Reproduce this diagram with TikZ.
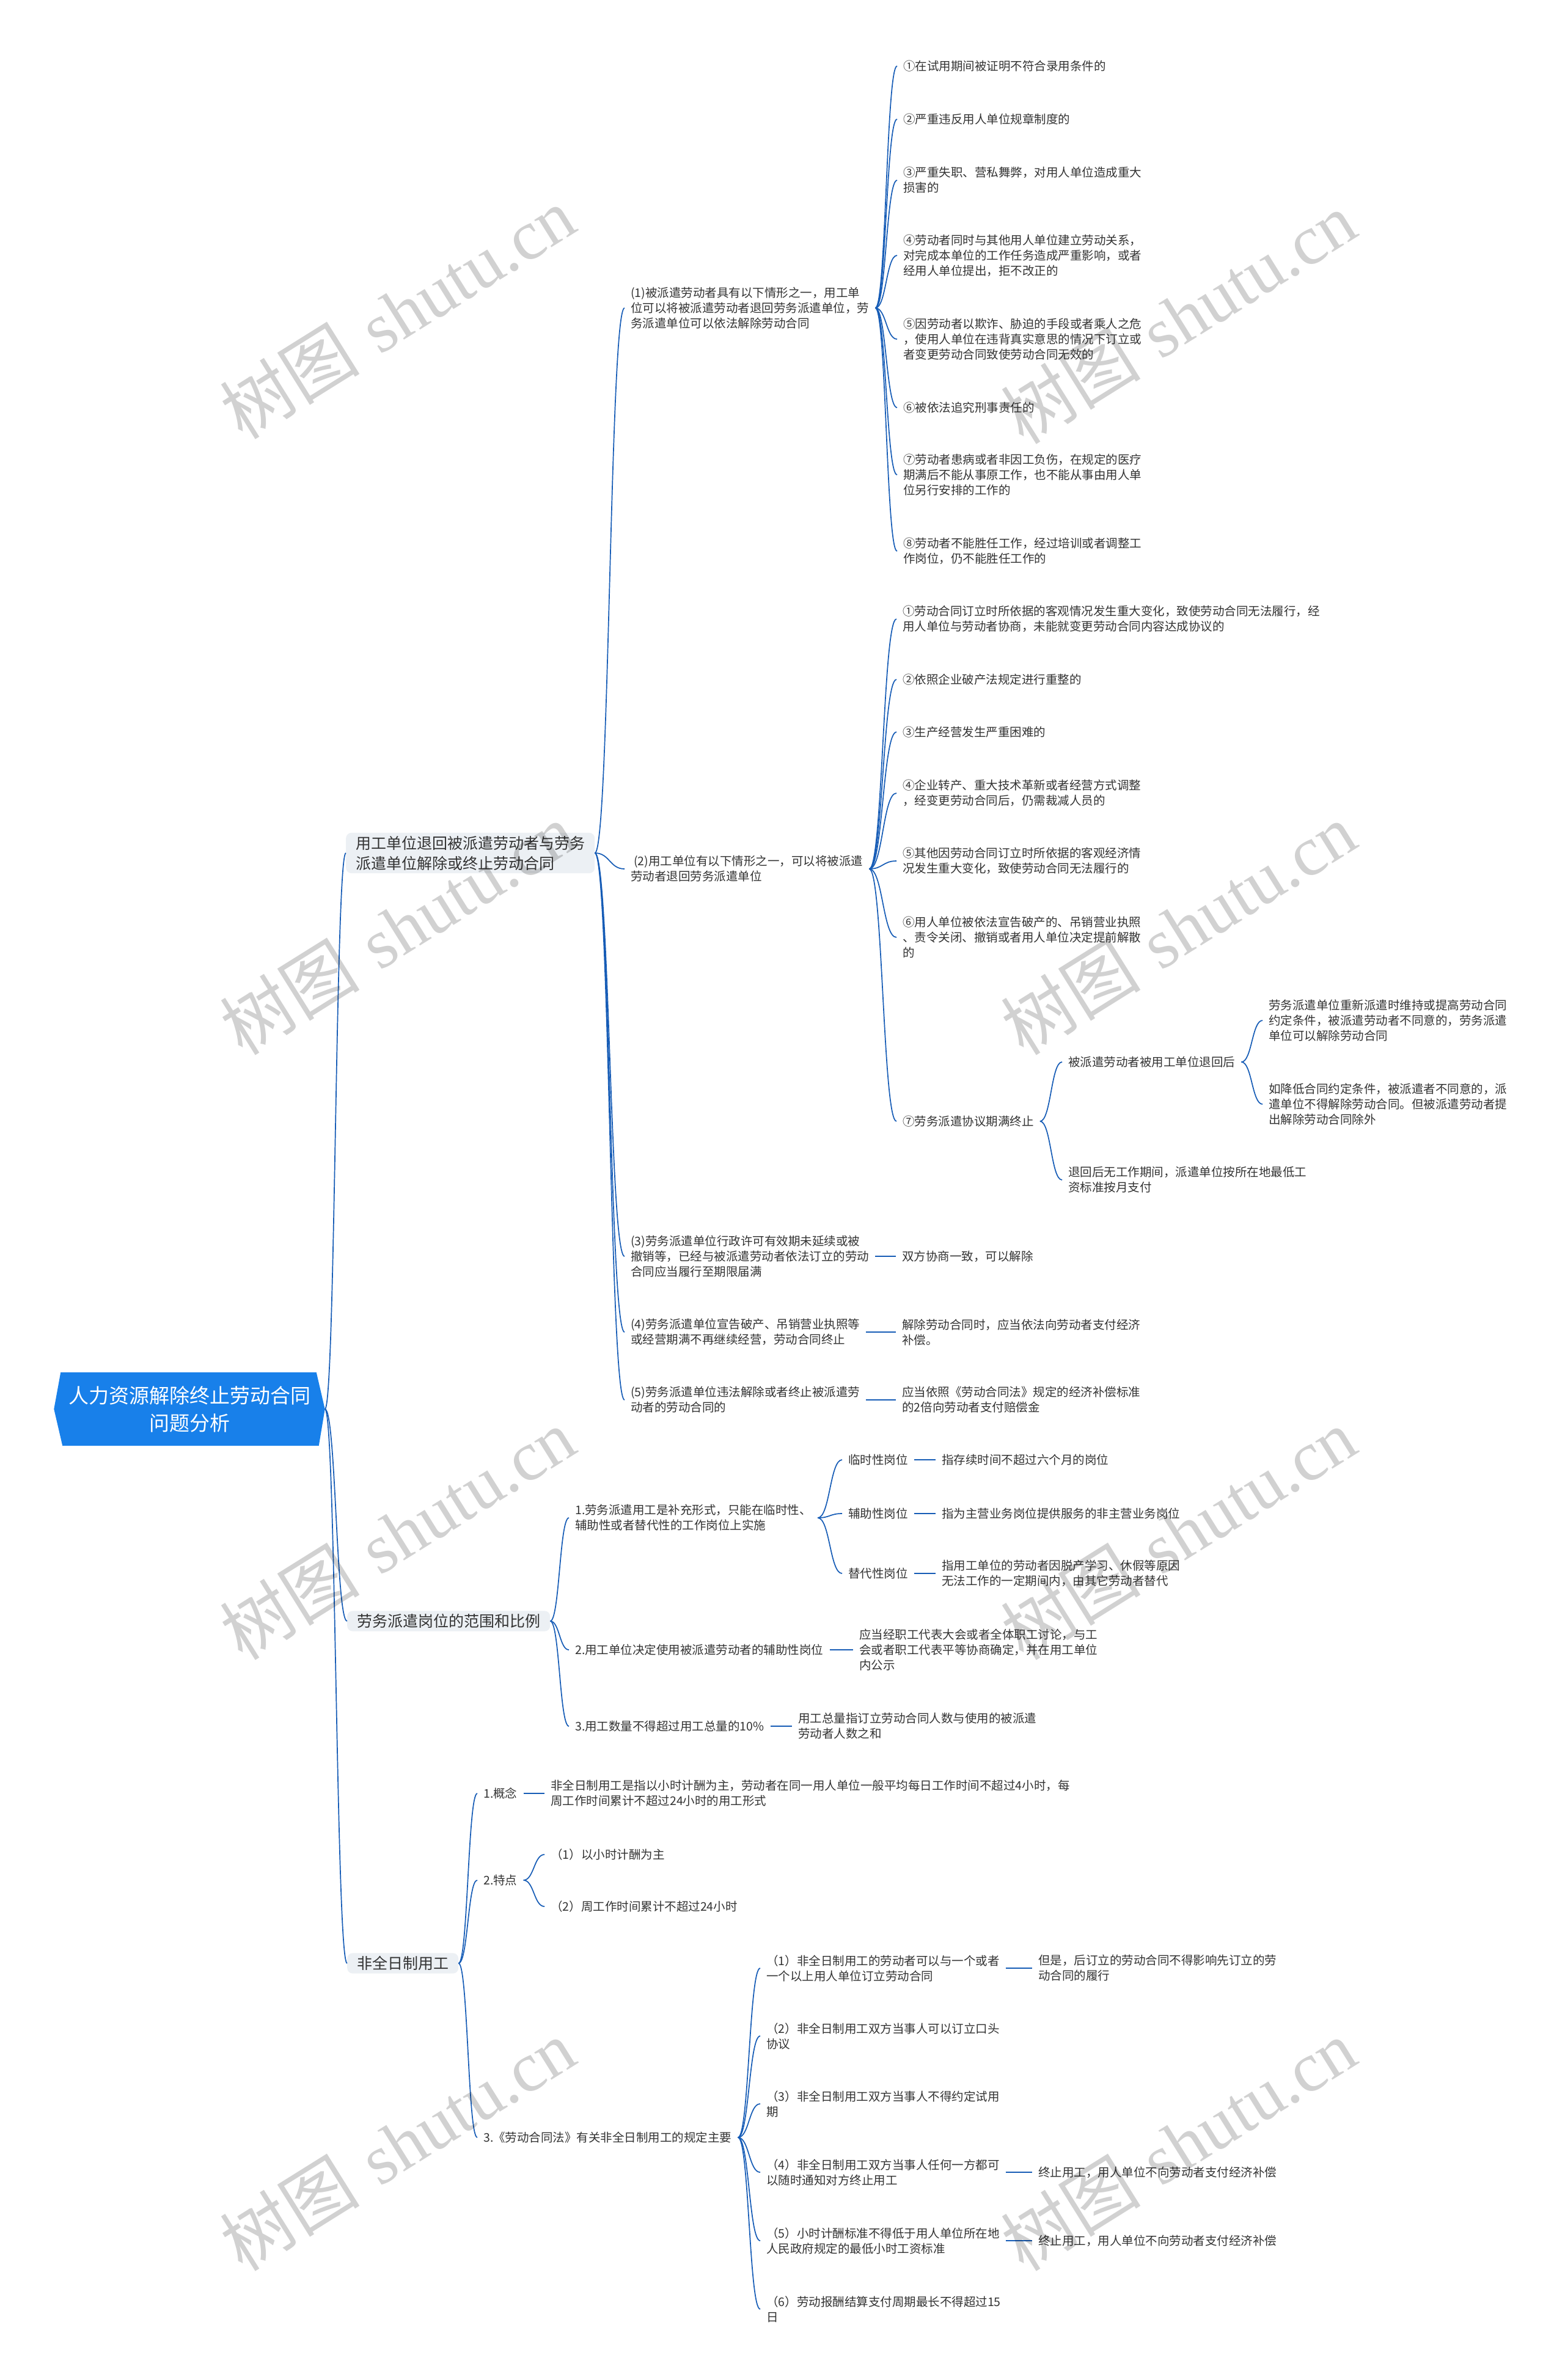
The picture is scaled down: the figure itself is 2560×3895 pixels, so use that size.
\documentclass[tikz,border=0pt]{standalone}
\usepackage{fontspec}
\newfontfamily\cjk{Noto Sans CJK SC}
\newfontfamily\wmserif{Liberation Serif}
\usetikzlibrary{calc,backgrounds}
\definecolor{rootblue}{RGB}{24,128,234}
\definecolor{linkblue}{RGB}{22,92,182}
\definecolor{boxgray}{RGB}{236,240,244}
\definecolor{txtgray}{RGB}{51,51,51}

\begin{document}
\begin{tikzpicture}[x=1pt,y=-1pt, font=\cjk,
  leaf/.style={anchor=west, inner xsep=10pt, inner ysep=3pt, align=left,
    text=txtgray, font=\cjk\fontsize{19.5}{25}\selectfont},
  topic/.style={anchor=west, inner xsep=16pt, inner ysep=5pt, align=left,
    fill=boxgray, rounded corners=9pt, text=txtgray,
    font=\cjk\fontsize{25}{33}\selectfont},
  wmark/.style={rotate=32, text=black, opacity=0.18, font=\fontsize{115}{115}\selectfont},
  linkto/.style={draw=linkblue, line width=1.7pt,
    to path={let \p1=(\tikztostart), \p2=(\tikztotarget) in
      .. controls ({(\x1+\x2)/2},\y1) and ({(\x1+\x2)/2},\y2) .. (\tikztotarget)}}]
  \begin{scope}[on background layer]
    \fill[white] (0,0) rectangle (2560,3895);
  \end{scope}
  \useasboundingbox (0,0) rectangle (2560,3895);

  %% root
  \node[minimum width=443pt, minimum height=120pt, inner sep=0pt, align=center,
    text=white, font=\cjk\fontsize{33}{45}\selectfont] (root) at (310,2306)
    {人力资源解除终止劳动合同\\问题分析};
  \begin{scope}[on background layer]
    \fill[rootblue] ([xshift=11pt]root.north west) -- ([xshift=-14pt]root.north east)
      -- (root.east) -- ([xshift=-10pt]root.south east)
      -- ([xshift=14pt]root.south west) -- (root.west) -- cycle;
  \end{scope}

  %% main topics
  \node[topic] (t1) at (566,1396) {用工单位退回被派遣劳动者与劳务\\派遣单位解除或终止劳动合同};
  \node[topic] (t2) at (568,2653) {劳务派遣岗位的范围和比例};
  \node[topic] (t3) at (568,3213) {非全日制用工};

  %% topic 1
  \node[leaf] (a1) at (1022,504) {(1)被派遣劳动者具有以下情形之一，用工单\\位可以将被派遣劳动者退回劳务派遣单位，劳\\务派遣单位可以依法解除劳动合同};
  \node[leaf] (a2) at (1022,1422) {\hspace*{5pt}(2)用工单位有以下情形之一，可以将被派遣\\劳动者退回劳务派遣单位};
  \node[leaf] (a3) at (1022,2056) {(3)劳务派遣单位行政许可有效期未延续或被\\撤销等，已经与被派遣劳动者依法订立的劳动\\合同应当履行至期限届满};
  \node[leaf] (a4) at (1022,2180) {(4)劳务派遣单位宣告破产、吊销营业执照等\\或经营期满不再继续经营，劳动合同终止};
  \node[leaf] (a5) at (1022,2291) {(5)劳务派遣单位违法解除或者终止被派遣劳\\动者的劳动合同的};
  \node[leaf] (a3c) at (1466,2056) {双方协商一致，可以解除};
  \node[leaf] (a4c) at (1466,2180) {解除劳动合同时，应当依法向劳动者支付经济\\补偿。};
  \node[leaf] (a5c) at (1466,2291) {应当依照《劳动合同法》规定的经济补偿标准\\的2倍向劳动者支付赔偿金};

  \node[leaf] (b1) at (1468,108) {①在试用期间被证明不符合录用条件的};
  \node[leaf] (b2) at (1468,195) {②严重违反用人单位规章制度的};
  \node[leaf] (b3) at (1468,295) {③严重失职、营私舞弊，对用人单位造成重大\\损害的};
  \node[leaf] (b4) at (1468,418) {④劳动者同时与其他用人单位建立劳动关系，\\对完成本单位的工作任务造成严重影响，或者\\经用人单位提出，拒不改正的};
  \node[leaf] (b5) at (1468,555) {⑤因劳动者以欺诈、胁迫的手段或者乘人之危\\，使用人单位在违背真实意思的情况下订立或\\者变更劳动合同致使劳动合同无效的};
  \node[leaf] (b6) at (1468,667) {⑥被依法追究刑事责任的};
  \node[leaf] (b7) at (1468,777) {⑦劳动者患病或者非因工负伤，在规定的医疗\\期满后不能从事原工作，也不能从事由用人单\\位另行安排的工作的};
  \node[leaf] (b8) at (1468,902) {⑧劳动者不能胜任工作，经过培训或者调整工\\作岗位，仍不能胜任工作的};

  \node[leaf] (c1) at (1467,1013) {①劳动合同订立时所依据的客观情况发生重大变化，致使劳动合同无法履行，经\\用人单位与劳动者协商，未能就变更劳动合同内容达成协议的};
  \node[leaf] (c2) at (1467,1112) {②依照企业破产法规定进行重整的};
  \node[leaf] (c3) at (1467,1198) {③生产经营发生严重困难的};
  \node[leaf] (c4) at (1467,1298) {④企业转产、重大技术革新或者经营方式调整\\，经变更劳动合同后，仍需裁减人员的};
  \node[leaf] (c5) at (1467,1409) {⑤其他因劳动合同订立时所依据的客观经济情\\况发生重大变化，致使劳动合同无法履行的};
  \node[leaf] (c6) at (1467,1534) {⑥用人单位被依法宣告破产的、吊销营业执照\\、责令关闭、撤销或者用人单位决定提前解散\\的};
  \node[leaf] (c7) at (1467,1835) {⑦劳务派遣协议期满终止};
  \node[leaf] (d1) at (1738,1738) {被派遣劳动者被用工单位退回后};
  \node[leaf] (d2) at (1738,1931) {退回后无工作期间，派遣单位按所在地最低工\\资标准按月支付};
  \node[leaf] (e1) at (2066,1670) {劳务派遣单位重新派遣时维持或提高劳动合同\\约定条件，被派遣劳动者不同意的，劳务派遣\\单位可以解除劳动合同};
  \node[leaf] (e2) at (2066,1807) {如降低合同约定条件，被派遣者不同意的，派\\遣单位不得解除劳动合同。但被派遣劳动者提\\出解除劳动合同除外};

  %% topic 2
  \node[leaf] (f1) at (931,2484) {1.劳务派遣用工是补充形式，只能在临时性、\\辅助性或者替代性的工作岗位上实施};
  \node[leaf] (f2) at (931,2700) {2.用工单位决定使用被派遣劳动者的辅助性岗位};
  \node[leaf] (f3) at (931,2825) {3.用工数量不得超过用工总量的10\%};
  \node[leaf] (g1) at (1378,2389) {临时性岗位};
  \node[leaf] (g2) at (1378,2477) {辅助性岗位};
  \node[leaf] (g3) at (1378,2575) {替代性岗位};
  \node[leaf] (g1c) at (1531,2389) {指存续时间不超过六个月的岗位};
  \node[leaf] (g2c) at (1531,2477) {指为主营业务岗位提供服务的非主营业务岗位};
  \node[leaf] (g3c) at (1531,2575) {指用工单位的劳动者因脱产学习、休假等原因\\无法工作的一定期间内，由其它劳动者替代};
  \node[leaf] (f2c) at (1396,2700) {应当经职工代表大会或者全体职工讨论，与工\\会或者职工代表平等协商确定，并在用工单位\\内公示};
  \node[leaf] (f3c) at (1296,2825) {用工总量指订立劳动合同人数与使用的被派遣\\劳动者人数之和};

  %% topic 3
  \node[leaf] (h1) at (781,2935) {1.概念};
  \node[leaf] (h2) at (781,3077) {2.特点};
  \node[leaf] (h3) at (781,3498) {3.《劳动合同法》有关非全日制用工的规定主要};
  \node[leaf] (h1c) at (891,2935) {非全日制用工是指以小时计酬为主，劳动者在同一用人单位一般平均每日工作时间不超过4小时，每\\周工作时间累计不超过24小时的用工形式};
  \node[leaf] (h2a) at (891,3035) {（1）以小时计酬为主};
  \node[leaf] (h2b) at (891,3120) {（2）周工作时间累计不超过24小时};
  \node[leaf] (k1) at (1244,3221) {（1）非全日制用工的劳动者可以与一个或者\\一个以上用人单位订立劳动合同};
  \node[leaf] (k2) at (1244,3332) {（2）非全日制用工双方当事人可以订立口头\\协议};
  \node[leaf] (k3) at (1244,3443) {（3）非全日制用工双方当事人不得约定试用\\期};
  \node[leaf] (k4) at (1244,3555) {（4）非全日制用工双方当事人任何一方都可\\以随时通知对方终止用工};
  \node[leaf] (k5) at (1244,3667) {（5）小时计酬标准不得低于用人单位所在地\\人民政府规定的最低小时工资标准};
  \node[leaf] (k6) at (1244,3779) {（6）劳动报酬结算支付周期最长不得超过15\\日};
  \node[leaf] (k1c) at (1689,3221) {但是，后订立的劳动合同不得影响先订立的劳\\动合同的履行};
  \node[leaf] (k4c) at (1689,3555) {终止用工，用人单位不向劳动者支付经济补偿};
  \node[leaf] (k5c) at (1689,3667) {终止用工，用人单位不向劳动者支付经济补偿};

  %% connectors
  \foreach \nd in {t1,t2,t3} \draw[linkto] (root.east) to (\nd.west);
  \foreach \nd in {a1,a2,a3,a4,a5} \draw[linkto] (t1.east) to (\nd.west);
  \foreach \nd in {b1,b2,b3,b4,b5,b6,b7,b8} \draw[linkto] (a1.east) to (\nd.west);
  \foreach \nd in {c1,c2,c3,c4,c5,c6,c7} \draw[linkto] (a2.east) to (\nd.west);
  \foreach \nd in {d1,d2} \draw[linkto] (c7.east) to (\nd.west);
  \foreach \nd in {e1,e2} \draw[linkto] (d1.east) to (\nd.west);
  \foreach \nd in {a3,a4,a5} \draw[linkto] (\nd.east) to (\nd c.west);
  \foreach \nd in {f1,f2,f3} \draw[linkto] (t2.east) to (\nd.west);
  \foreach \nd in {g1,g2,g3} \draw[linkto] (f1.east) to (\nd.west);
  \foreach \nd in {g1,g2,g3,f2,f3} \draw[linkto] (\nd.east) to (\nd c.west);
  \foreach \nd in {h1,h2,h3} \draw[linkto] (t3.east) to (\nd.west);
  \draw[linkto] (h1.east) to (h1c.west);
  \foreach \nd in {h2a,h2b} \draw[linkto] (h2.east) to (\nd.west);
  \foreach \nd in {k1,k2,k3,k4,k5,k6} \draw[linkto] (h3.east) to (\nd.west);
  \foreach \nd in {k1,k4,k5} \draw[linkto] (\nd.east) to (\nd c.west);

  %% watermarks
  \foreach \wx/\wy [count=\i] in {650/512,1928/520,650/1520,1928/1520,650/2510,1928/2510,650/3510,1928/3510}
    \node[wmark] (wm\i) at (\wx,\wy) {{\cjk 树图} {\wmserif shutu.cn}};
\end{tikzpicture}
\end{document}
